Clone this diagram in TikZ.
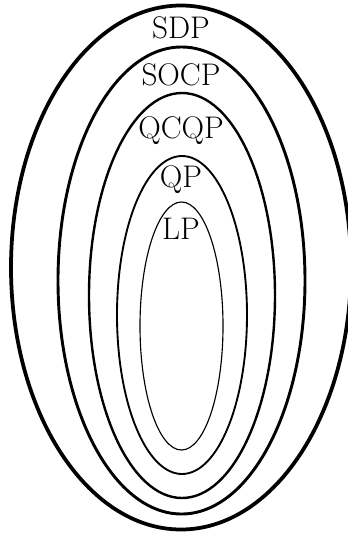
\documentclass[tikz,border=0pt]{standalone}
\usetikzlibrary{positioning}
\tikzset{
  classe/.style={draw=black, fill=none},
  rotulo/.style={inner sep=1pt, font=\fontsize{15}{18}\selectfont},
}
\begin{document}
\begin{tikzpicture}[x=0.48pt, y=-0.48pt]
  \useasboundingbox (0,0) rectangle (347,535);
  % conjuntos aninhados
  \draw[classe, line width=1.8pt] (181,267.5) ellipse [x radius=170, y radius=262];
  \draw[classe, line width=1.4pt] (181.5,280.5) ellipse [x radius=123.5, y radius=233.5];
  \draw[classe, line width=1.15pt] (182,295.5) ellipse [x radius=93, y radius=202.5];
  \draw[classe, line width=0.9pt] (182,315) ellipse [x radius=65, y radius=159];
  \draw[classe, line width=0.55pt] (181.5,326) ellipse [x radius=41.5, y radius=124];
  % rotulos
  \node[rotulo] (sdp)  at (181,28)  {SDP};
  \node[rotulo] (socp) at (181,75)  {SOCP};
  \node[rotulo] (qcqp) at (181,131) {QCQP};
  \node[rotulo] (qp)   at (181,180) {QP};
  \node[rotulo] (lp)   at (181,229) {LP};
\end{tikzpicture}
\end{document}
